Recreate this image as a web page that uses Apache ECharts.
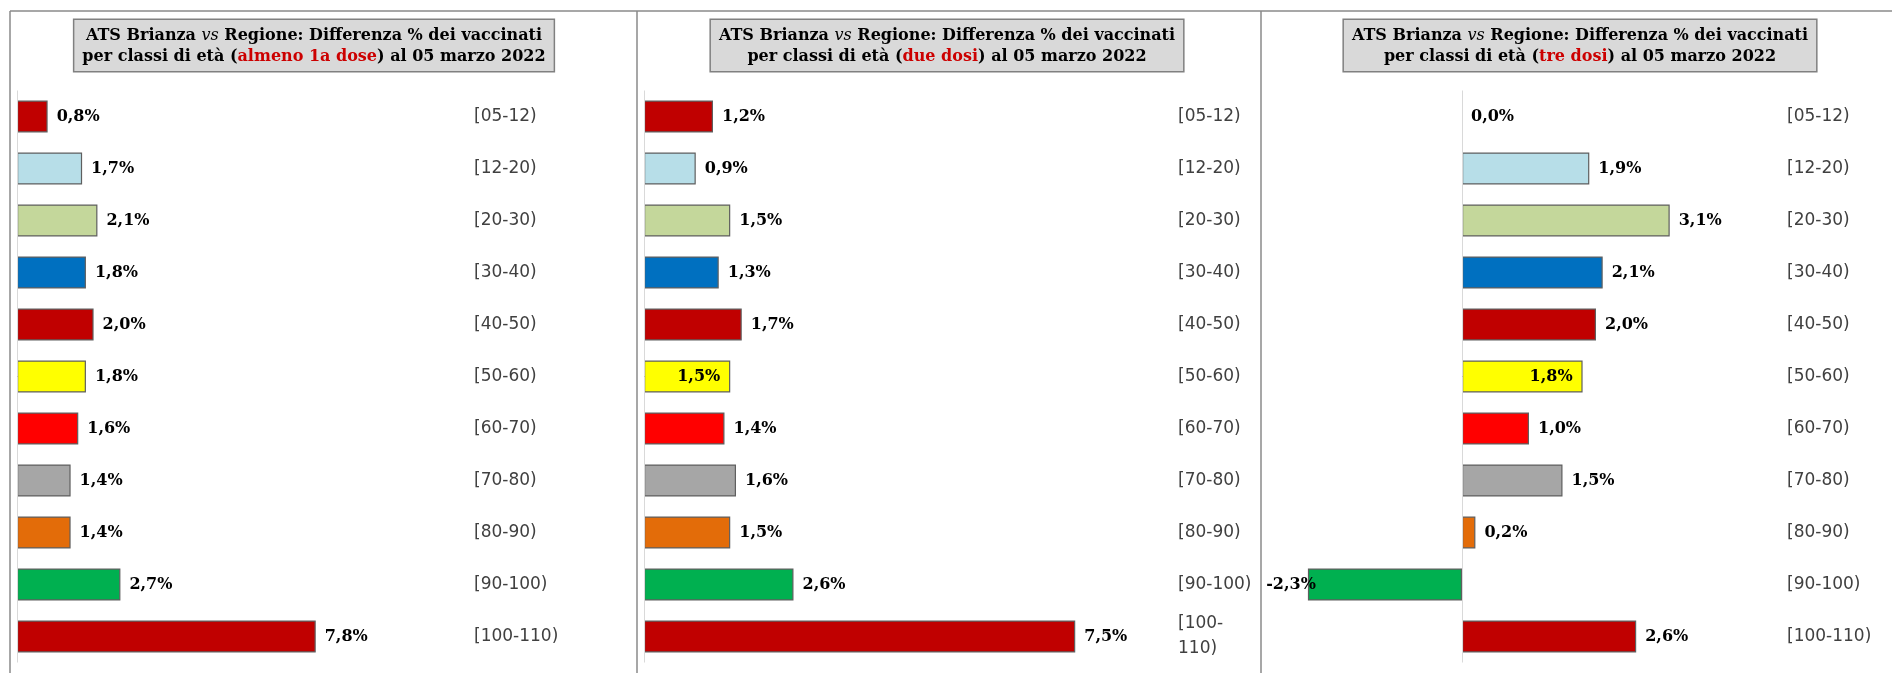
<!DOCTYPE html>
<html><head><meta charset="utf-8">
<script src="https://cdn.jsdelivr.net/npm/echarts@6/dist/echarts.min.js"></script>
<style>html,body{margin:0;padding:0;background:#fff}#c{width:1892px;height:673px}</style>
</head><body><div id="c"></div>
<script>
// ---- data ----
const categories = ['[05-12)', '[12-20)', '[20-30)', '[30-40)', '[40-50)', '[50-60)', '[60-70)', '[70-80)', '[80-90)', '[90-100)', '[100-110)'];
const barColors = ['#C00000', '#B7DEE8', '#C4D79B', '#0070C0', '#C00000', '#FFFF00', '#FF0000', '#A6A6A6', '#E36C09', '#00B050', '#C00000'];
const valuesFirstDose = [0.8, 1.7, 2.1, 1.8, 2.0, 1.8, 1.6, 1.4, 1.4, 2.7, 7.8];
const valuesTwoDoses = [1.2, 0.9, 1.5, 1.3, 1.7, 1.5, 1.4, 1.6, 1.5, 2.6, 7.5];
const valuesThreeDoses = [0.0, 1.9, 3.1, 2.1, 2.0, 1.8, 1.0, 1.5, 0.2, -2.3, 2.6];
const doseLabels = ['almeno 1a dose', 'due dosi', 'tre dosi'];
const titleDate = '05 marzo 2022';

// ---- layout / styles ----
const panels = [
  { values: valuesFirstDose, left: 17, width: 383, min: 0, max: 10, margin: 74, center: 314, inside: -1, wrap: false },
  { values: valuesTwoDoses, left: 644, width: 460, min: 0, max: 8, margin: 74, center: 947, inside: 5, wrap: true },
  { values: valuesThreeDoses, left: 1261, width: 469, min: -3, max: 4, margin: 57, center: 1580, inside: 5, wrap: false }
];
const serif = '"DejaVu Serif", serif';
const sans = '"DejaVu Sans", sans-serif';
const fmt = v => v.toFixed(1).replace('.', ',') + '%';

const grid = [], xAxis = [], yAxis = [], series = [], graphic = [];
panels.forEach((p, k) => {
  grid.push({ left: p.left, width: p.width, top: 90.5, height: 572, containLabel: false });
  xAxis.push({ type: 'value', gridIndex: k, min: p.min, max: p.max, show: false });
  yAxis.push({
    type: 'category', gridIndex: k, data: categories, inverse: true, position: 'right',
    axisLine: { show: false, onZero: false }, axisTick: { show: false },
    axisLabel: {
      margin: p.margin, align: 'left', color: '#404040', fontFamily: sans, fontSize: 17, lineHeight: 25,
      formatter: v => (p.wrap && v.length > 8) ? v.replace('-', '-\n') : v
    }
  });
  series.push({
    type: 'bar', xAxisIndex: k, yAxisIndex: k, barWidth: 32,
    data: p.values.map((v, i) => {
      const d = { value: v, itemStyle: { color: barColors[i] } };
      if (v === 0) d.itemStyle.borderWidth = 0;
      if (i === p.inside) d.label = { position: 'insideRight', distance: 10 };
      else if (v < 0) d.label = { position: 'left', distance: -8 };
      return d;
    }),
    itemStyle: { borderColor: '#5f5f5f', borderWidth: 1.2 },
    label: {
      show: true, position: 'right', distance: 9, color: '#000', fontFamily: serif,
      fontWeight: 'bold', fontSize: 16, formatter: pr => fmt(pr.value)
    },
    markLine: {
      silent: true, symbol: 'none', label: { show: false },
      lineStyle: { color: '#d9d9d9', width: 1, type: 'solid' },
      data: [{ xAxis: 0 }], animation: false
    },
    z: 3
  });
  graphic.push({
    type: 'text', x: p.center, y: 20, z: 10,
    style: {
      text: '{b|ATS Brianza }{i|vs}{b| Regione: Differenza % dei vaccinati}\n{b|per classi di età (}{r|' + doseLabels[k] + '}{b|) al ' + titleDate + '}',
      align: 'center', verticalAlign: 'top',
      backgroundColor: '#D9D9D9', borderColor: '#808080', borderWidth: 1.5,
      padding: [5, 8, 4, 8],
      rich: {
        b: { fontFamily: serif, fontWeight: 'bold', fontSize: 16, lineHeight: 21, fill: '#000', align: 'center' },
        i: { fontFamily: serif, fontStyle: 'italic', fontSize: 16, lineHeight: 21, fill: '#000', align: 'center' },
        r: { fontFamily: serif, fontWeight: 'bold', fontSize: 16, lineHeight: 21, fill: '#CC0000', align: 'center' }
      }
    }
  });
});
const borderStyle = { stroke: '#8a8a8a', lineWidth: 1.5 };
[[10, 11, 1892, 11], [10, 11, 10, 673], [637, 11, 637, 673], [1261, 11, 1261, 673]].forEach(l => {
  graphic.push({ type: 'line', shape: { x1: l[0], y1: l[1], x2: l[2], y2: l[3] }, style: borderStyle, z: 1 });
});

const chart = echarts.init(document.getElementById('c'), null, { renderer: 'canvas' });
chart.setOption({ animation: false, backgroundColor: '#fff', grid, xAxis, yAxis, series, graphic });
</script></body></html>
